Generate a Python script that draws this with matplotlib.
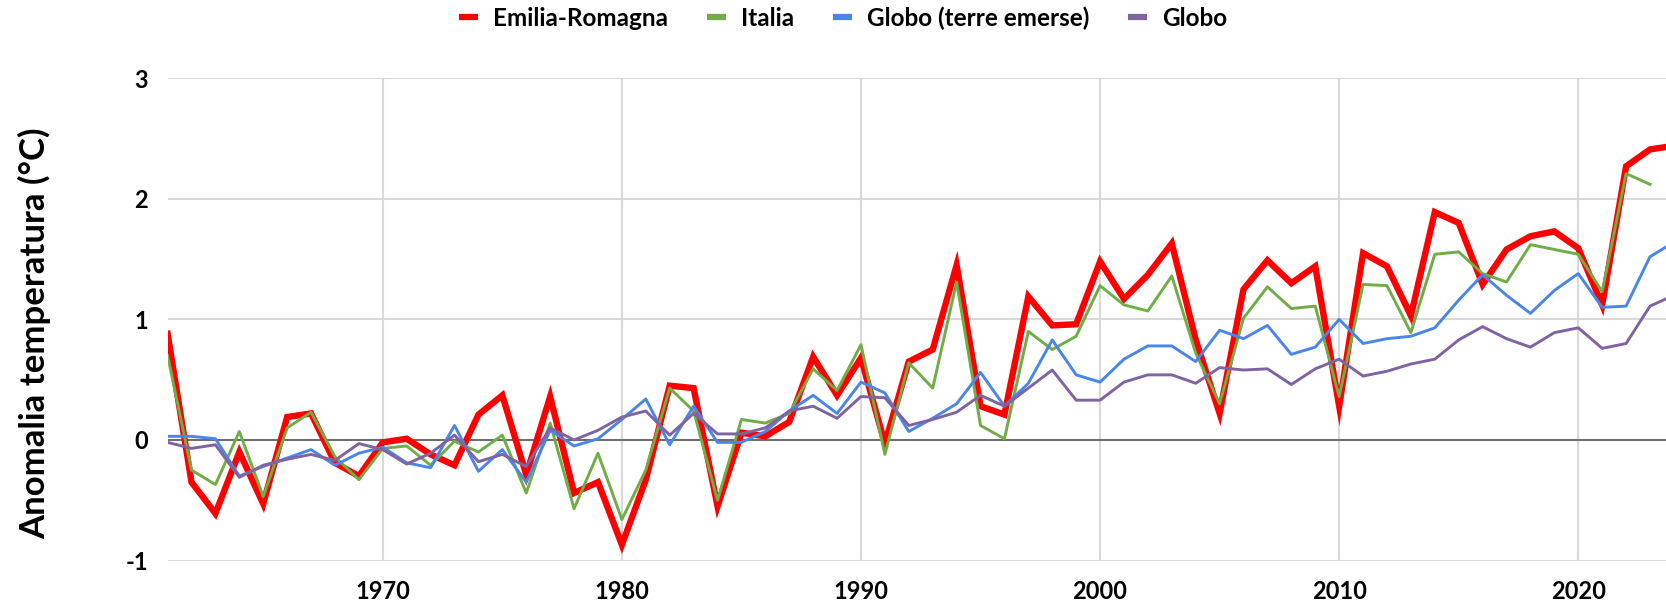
import matplotlib
matplotlib.use("Agg")
import matplotlib.pyplot as plt
from matplotlib.lines import Line2D

years = list(range(1961, 2025))
years_italia = list(range(1961, 2024))

emilia_romagna = [0.88, -0.35, -0.61, -0.10, -0.53, 0.19, 0.22, -0.19, -0.30, -0.02,
                  0.01, -0.12, -0.21, 0.21, 0.37, -0.29, 0.36, -0.44, -0.35, -0.87,
                  -0.33, 0.45, 0.43, -0.55, 0.06, 0.03, 0.15, 0.69, 0.37, 0.68,
                  -0.03, 0.65, 0.75, 1.45, 0.28, 0.21, 1.19, 0.95, 0.96, 1.48,
                  1.17, 1.37, 1.63, 0.83, 0.22, 1.25, 1.49, 1.30, 1.44, 0.28,
                  1.55, 1.44, 1.03, 1.89, 1.80, 1.29, 1.58, 1.69, 1.73, 1.59,
                  1.12, 2.27, 2.41, 2.44]

italia = [0.70, -0.25, -0.37, 0.07, -0.47, 0.10, 0.23, -0.14, -0.33, -0.07,
          -0.05, -0.21, -0.01, -0.10, 0.04, -0.44, 0.14, -0.57, -0.11, -0.66,
          -0.25, 0.43, 0.24, -0.50, 0.17, 0.14, 0.22, 0.59, 0.41, 0.79,
          -0.12, 0.64, 0.43, 1.31, 0.12, 0.01, 0.90, 0.75, 0.86, 1.28,
          1.12, 1.07, 1.36, 0.72, 0.30, 1.01, 1.27, 1.09, 1.11, 0.36,
          1.29, 1.28, 0.89, 1.54, 1.56, 1.38, 1.31, 1.62, 1.58, 1.54,
          1.23, 2.21, 2.12]

globo_terre = [0.03, 0.03, 0.01, -0.30, -0.22, -0.15, -0.08, -0.21, -0.11, -0.06,
               -0.19, -0.23, 0.12, -0.26, -0.08, -0.35, 0.08, -0.05, 0.01, 0.17,
               0.34, -0.04, 0.28, -0.02, -0.02, 0.07, 0.24, 0.37, 0.22, 0.48,
               0.39, 0.07, 0.18, 0.30, 0.56, 0.28, 0.47, 0.83, 0.54, 0.48,
               0.67, 0.78, 0.78, 0.65, 0.91, 0.84, 0.95, 0.71, 0.77, 1.00,
               0.80, 0.84, 0.86, 0.93, 1.16, 1.37, 1.20, 1.05, 1.24, 1.38,
               1.10, 1.11, 1.52, 1.64]

globo = [-0.02, -0.07, -0.04, -0.31, -0.21, -0.16, -0.12, -0.17, -0.03, -0.08,
         -0.20, -0.11, 0.04, -0.18, -0.12, -0.22, 0.10, 0.00, 0.08, 0.19,
         0.24, 0.04, 0.22, 0.05, 0.05, 0.10, 0.24, 0.28, 0.18, 0.36,
         0.35, 0.12, 0.17, 0.23, 0.37, 0.28, 0.43, 0.58, 0.33, 0.33,
         0.48, 0.54, 0.54, 0.47, 0.60, 0.58, 0.59, 0.46, 0.59, 0.67,
         0.53, 0.57, 0.63, 0.67, 0.83, 0.94, 0.84, 0.77, 0.89, 0.93,
         0.76, 0.80, 1.11, 1.20]

series_labels = ["Emilia-Romagna", "Italia", "Globo (terre emerse)", "Globo"]
colors = ["#FF0000", "#70AD47", "#4A86E8", "#8064A2"]
x_ticks = [1970, 1980, 1990, 2000, 2010, 2020]
y_ticks = [-1, 0, 1, 2, 3]

plt.rcParams['font.family'] = ['Lato', 'DejaVu Sans']
plt.rcParams['font.weight'] = 'bold'

W, H = 1666, 606
fig = plt.figure(figsize=(W / 100, H / 100), dpi=100)
left = 167.6 / W
bottom = 1 - 560.5 / H
top = 1 - 78.3 / H
right_px = 1673.9
ax = fig.add_axes([left, bottom, (right_px - 167.6) / W, top - bottom])

ax.set_xlim(1961, 2024)
ax.set_ylim(-1, 3)

for s in ax.spines.values():
    s.set_visible(False)

ax.set_yticks(y_ticks)
ax.set_yticklabels([str(v) for v in y_ticks])
ax.set_xticks(x_ticks)
ax.set_xticklabels([str(v) for v in x_ticks])
ax.tick_params(axis='both', length=0, labelsize=17)
ax.tick_params(axis='y', pad=14)
ax.tick_params(axis='x', pad=14)
for lab in ax.get_xticklabels() + ax.get_yticklabels():
    lab.set_fontweight('bold')

ax.grid(True, color='#D9D9D9', lw=1.5, zorder=0)
ax.set_axisbelow(True)
ax.axhline(0, color='#595959', lw=1.2, zorder=1)

ax.plot(years, emilia_romagna, color=colors[0], lw=4.6, solid_joinstyle='miter', zorder=2)
ax.plot(years_italia, italia, color=colors[1], lw=2.1, zorder=3)
ax.plot(years, globo_terre, color=colors[2], lw=2.1, zorder=4)
ax.plot(years, globo, color=colors[3], lw=2.1, zorder=5)

fig.text(35 / W, 1 - 333 / H, "Anomalia temperatura (°C)", rotation=90,
         ha='center', va='center', fontsize=25, fontweight='bold')

handles = [Line2D([0], [0], color=c, lw=4.5, solid_capstyle='butt') for c in colors]
fig.legend(handles, series_labels, loc='center', bbox_to_anchor=(0.506, 1 - 18 / H),
           ncol=4, frameon=False, prop={'size': 17.5, 'weight': 'bold'},
           handlelength=0.8, handletextpad=0.6, columnspacing=1.6)

fig.savefig("out.png", dpi=100)
